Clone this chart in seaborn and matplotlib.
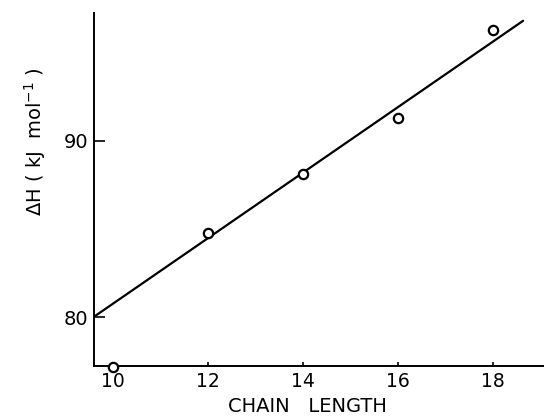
import matplotlib
matplotlib.use("Agg")
import matplotlib.pyplot as plt
import seaborn as sns
import pandas as pd

# Data
chain_length = [10, 12, 14, 16, 18]
delta_h = [77.15, 84.75, 88.1, 91.3, 96.28]
fit_x = [9.59, 18.63]
fit_y = [80.0, 96.8]
x_ticks = [10, 12, 14, 16, 18]
y_ticks = [80, 90]

sns.set_theme(style="ticks")
plt.rcParams['font.family'] = ['DejaVu Sans']

fig = plt.figure(figsize=(5.44, 4.16), dpi=100)
ax = fig.add_axes([0.172, 0.120, 0.828, 0.8495])

pts = pd.DataFrame({"x": chain_length, "y": delta_h})
fit = pd.DataFrame({"x": fit_x, "y": fit_y})

sns.lineplot(data=fit, x="x", y="y", ax=ax, color="black", linewidth=1.6)
sns.scatterplot(data=pts, x="x", y="y", ax=ax, marker="o", s=45,
                facecolor="white", edgecolor="black", linewidth=1.6,
                zorder=3, clip_on=False)

ax.set_xlim(9.59, 19.07)
ax.set_ylim(77.22, 97.26)
ax.set_xticks(x_ticks)
ax.set_yticks(y_ticks)
ax.set_xticklabels([str(t) for t in x_ticks], fontsize=13.5)
ax.set_yticklabels([str(t) for t in y_ticks], fontsize=14)

ax.tick_params(axis="x", direction="in", length=3, width=1.2, pad=4, colors="black")
ax.tick_params(axis="y", direction="in", length=8, width=1.2, pad=4, colors="black")

for s in ["top", "right"]:
    ax.spines[s].set_visible(False)
for s in ["left", "bottom"]:
    ax.spines[s].set_linewidth(1.4)
    ax.spines[s].set_color("black")

ax.set_xlabel("CHAIN   LENGTH", fontsize=14, color="black")
ax.set_ylabel("ΔH ( kJ  mol$^{-1}$ )", fontsize=14, color="black")
# place labels where the reference has them (pixel centres -> axes fraction)
ax.xaxis.set_label_coords((307 - 93.5) / 450.5, (366 - 406) / 353.3)
ax.yaxis.set_label_coords((35 - 93.5) / 450.5, (366 - 142) / 353.3)
ax.xaxis.label.set_verticalalignment("center")
ax.yaxis.label.set_verticalalignment("center")

fig.savefig("out.png", dpi=100)
